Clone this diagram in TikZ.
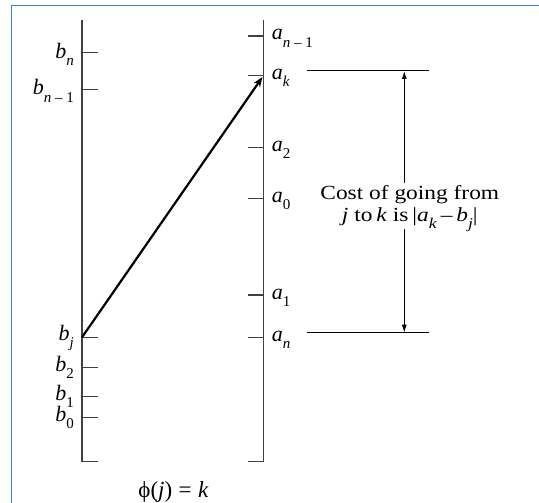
\documentclass[tikz,border=0pt]{standalone}
\usepackage{fontspec}
\setmainfont{Liberation Serif}
\usetikzlibrary{arrows.meta}
\newcommand\lb[2]{\textit{#1}\raisebox{-0.33em}{\fontsize{15}{15}\selectfont #2}}
\tikzset{
  axis/.style={draw=black!75, line width=1.5pt},
  tick/.style={draw=black!75, line width=1.5pt},
  lab/.style={inner sep=0pt, font=\fontsize{22}{24}\selectfont},
  frame/.style={draw={rgb,255:red,46;green,134;blue,222}, line width=1.6pt},
}
\begin{document}
\begin{tikzpicture}[x=1pt,y=-1pt]
\useasboundingbox (0,0) rectangle (539,503);
\fill[white] (0,0) rectangle (539,503);
% screenshot frame
\draw[frame] (11.3,503) -- (11.3,5.7) -- (539,5.7);
% axes
\coordinate (Lt) at (82,20);
\coordinate (Lb) at (82,461.7);
\coordinate (Lbe) at (98,461.7);
\coordinate (Rt) at (263.7,20);
\coordinate (Rb) at (263.7,461.7);
\coordinate (Rbe) at (247.5,461.7);
\draw[axis] (Lt) -- (Lb) -- (Lbe);
\draw[axis] (Rt) -- (Rb) -- (Rbe);
% left ticks and labels
\foreach \y/\nm/\t/\s/\dy in {52.7/bn/b/\textit{n}/5.5, 89.3/bnm/b/\textit{n} – 1/5.5, 337.3/bj/b/\textit{j}/3, 367.7/b2/b/2/4, 396.7/b1/b/1/3.5, 417.7/b0/b/0/3.5}{
  \coordinate (t\nm) at (82,\y);
  \draw[tick] (t\nm) -- ++(16,0);
  \node[lab, anchor=base east] (l\nm) at (74,\y+\dy) {\lb{\t}{\s}};
}
% right ticks and labels
\foreach \y/\nm/\s in {36/anm/\textit{n} – 1, 75.3/ak/\textit{k}, 147.7/a2/2, 198.3/a0/0, 295/a1/1, 337.7/an/\textit{n}}{
  \coordinate (t\nm) at (263.7,\y);
  \draw[tick] (t\nm) -- ++(-16.2,0);
  \node[lab, anchor=base west] (l\nm) at (271.6,\y+4) {\lb{a}{\s}};
}
% main arrow
\coordinate (ahead) at (262.5,77);
\draw[line width=2.2pt, -{Stealth[length=10pt,width=7.5pt]}] (tbj) -- (ahead);
% cost bracket
\coordinate (h1a) at (307,71);
\coordinate (h1b) at (429,71);
\coordinate (h2a) at (307,332.7);
\coordinate (h2b) at (429,332.7);
\draw[line width=1pt] (h1a) -- (h1b);
\draw[line width=1pt] (h2a) -- (h2b);
\node[lab, anchor=base, font=\fontsize{20}{22}\selectfont] (cost) at (409.8,200) {\scalebox{1.17}[1]{\begin{tabular}[t]{@{}c@{}}Cost of going from\\ \textit{j} to\,\textit{k} is\,|\lb{a}{\textit{k}}\,–\,\lb{b}{\textit{j}}|\end{tabular}}};
\coordinate (ua) at (404.3,71);
\coordinate (ub) at (404.3,182.7);
\coordinate (da) at (404.3,229.3);
\coordinate (db) at (404.3,332.7);
\draw[line width=1pt, -{Latex[length=8pt,width=5pt]}] (ub) -- (ua);
\draw[line width=1pt, -{Latex[length=8pt,width=5pt]}] (da) -- (db);
% bottom formula
\node[lab, anchor=base, font=\fontsize{23}{24}\selectfont] (phi) at (173.5,497) {ϕ(\textit{j})\;=\;\textit{k}};
\end{tikzpicture}
\end{document}
